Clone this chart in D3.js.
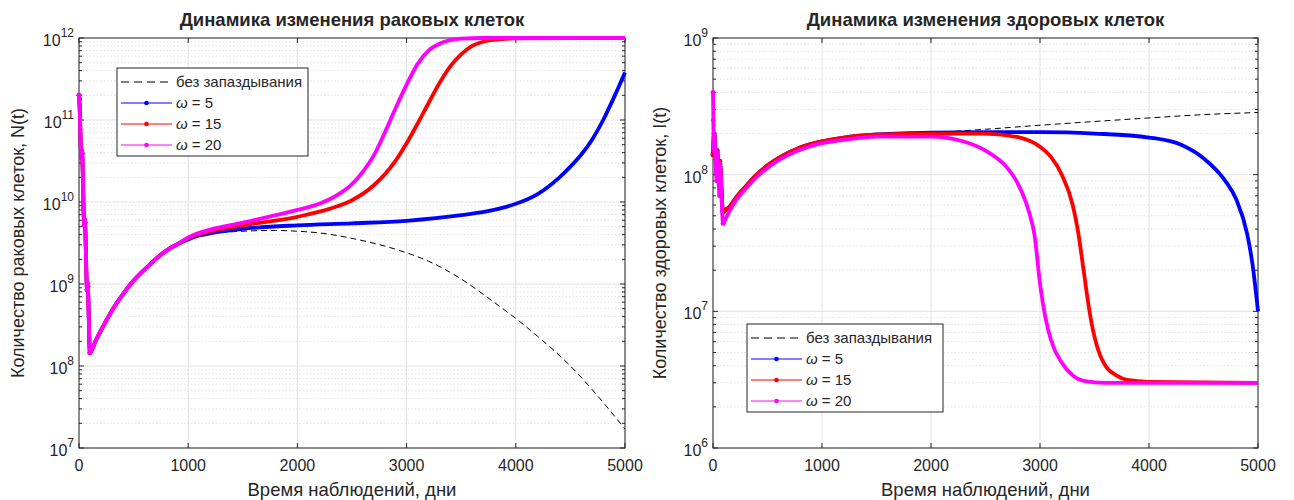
<!DOCTYPE html>
<meta charset="utf-8">
<style>
body { margin: 0; background: #fff; }
text { font-family: "Liberation Sans", Arial, sans-serif; fill: #262626; }
.gmaj line { stroke: #e2e2e2; stroke-width: 1; }
.gmin line { stroke: #e2e2e2; stroke-width: 1; stroke-dasharray: 1.5,2; }
.frame { fill: none; stroke: #262626; stroke-width: 1; }
</style>
<svg width="1294" height="500"></svg>
<script src="https://d3js.org/d3.v7.min.js"></script>
<script>

var xTicks = [0, 1000, 2000, 3000, 4000, 5000];
var omegas = [5, 15, 20];
var colors = ["#0000ff", "#ff0000", "#ff00ff"];
var noDelayLabel = "без запаздывания";

// раковые клетки N(t): общий начальный участок (курсы лечения до ~100 дней и рост)
var tumorStart = [[0, 2.0e11], [3, 1.8e11], [22, 3.5e10], [25, 4.2e10], [29, 3.9e10], [48, 5.2e9],
  [51, 6.0e9], [55, 5.6e9], [74, 8.5e8], [77, 1.0e9], [81, 9.4e8], [100, 1.45e8], [150, 2.0e8],
  [200, 2.7e8], [300, 4.7e8], [400, 7.4e8], [500, 1.1e9], [600, 1.5e9], [700, 2.0e9], [800, 2.55e9],
  [900, 3.05e9]];
var tumorNoDelay = [[1000, 3.5e9], [1100, 3.85e9], [1200, 4.1e9], [1500, 4.4e9], [1800, 4.5e9], [2000, 4.4e9],
  [2200, 4.2e9], [2500, 3.6e9], [2800, 2.9e9], [3000, 2.4e9], [3200, 1.9e9], [3500, 1.15e9], [3800, 6.0e8],
  [4000, 3.8e8], [4200, 2.3e8], [4500, 1.0e8], [4800, 3.6e7], [5000, 1.7e7]];
var tumorW5 = [[1000, 3.5e9], [1100, 3.9e9], [1200, 4.15e9], [1500, 4.7e9], [2000, 5.2e9], [2500, 5.5e9],
  [3000, 5.9e9], [3500, 6.9e9], [3800, 8.0e9], [4000, 9.5e9], [4200, 1.25e10], [4400, 2.0e10], [4500, 2.7e10],
  [4600, 3.8e10], [4700, 5.8e10], [4800, 1.0e11], [4900, 1.9e11], [5000, 3.8e11]];
var tumorW15 = [[1000, 3.6e9], [1100, 4.05e9], [1200, 4.4e9], [1500, 5.2e9], [2000, 6.6e9], [2300, 8.3e9],
  [2500, 1.05e10], [2700, 1.6e10], [2900, 3.2e10], [3000, 5.2e10], [3100, 9.0e10], [3200, 1.6e11],
  [3300, 2.8e11], [3400, 4.5e11], [3500, 6.3e11], [3600, 8.0e11], [3700, 9.0e11], [3800, 9.5e11],
  [4000, 9.9e11], [4500, 1.0e12], [5000, 1.0e12]];
var tumorW20 = [[1000, 3.7e9], [1100, 4.2e9], [1200, 4.6e9], [1500, 5.6e9], [2000, 8.0e9], [2200, 9.5e9],
  [2400, 1.3e10], [2500, 1.65e10], [2600, 2.35e10], [2700, 3.7e10], [2800, 7.0e10], [2900, 1.4e11],
  [3000, 2.7e11], [3100, 4.8e11], [3200, 7.0e11], [3300, 8.5e11], [3400, 9.4e11], [3500, 9.8e11],
  [3700, 1.0e12], [5000, 1.0e12]];

// здоровые клетки I(t)
var healthyStart = [[0, 1.4e8], [10, 2.0e8], [14, 1.9e8], [35, 1.0e8], [38, 1.5e8], [60, 8.0e7],
  [63, 1.25e8], [92, 5.3e7], [100, 5.4e7], [150, 5.8e7], [200, 6.6e7], [250, 7.4e7], [300, 8.2e7],
  [400, 1.0e8], [500, 1.17e8], [600, 1.32e8], [800, 1.58e8], [1000, 1.75e8], [1200, 1.87e8]];
var healthyStartW20 = [[0, 4.0e8], [3, 2.5e8], [8, 1.5e8], [12, 1.9e8], [35, 9.0e7], [38, 1.45e8],
  [60, 7.0e7], [63, 1.2e8], [92, 4.4e7], [100, 4.5e7], [150, 5.4e7], [200, 6.3e7], [250, 7.1e7],
  [300, 7.9e7], [400, 9.6e7], [500, 1.12e8], [600, 1.27e8], [800, 1.52e8], [1000, 1.7e8], [1200, 1.8e8]];
var healthyNoDelay = [[1500, 1.97e8], [2000, 2.03e8], [2500, 2.15e8], [3000, 2.3e8], [3500, 2.45e8],
  [4000, 2.6e8], [4500, 2.75e8], [5000, 2.85e8]];
var healthyW5 = [[1500, 1.97e8], [2000, 2.03e8], [2500, 2.05e8], [3000, 2.05e8], [3500, 2.0e8],
  [4000, 1.87e8], [4300, 1.65e8], [4500, 1.32e8], [4700, 9.0e7], [4800, 6.6e7], [4900, 3.7e7],
  [4950, 2.2e7], [5000, 1.0e7]];
var healthyW15 = [[1500, 1.96e8], [2000, 2.0e8], [2500, 2.0e8], [2800, 1.88e8], [3000, 1.6e8], [3100, 1.35e8],
  [3200, 1.0e8], [3300, 6.0e7], [3350, 3.8e7], [3400, 2.0e7], [3450, 1.05e7], [3500, 6.5e6], [3550, 4.8e6],
  [3600, 4.0e6], [3700, 3.4e6], [3800, 3.15e6], [4000, 3.05e6], [5000, 3.0e6]];
var healthyW20 = [[1500, 1.9e8], [2000, 1.9e8], [2300, 1.75e8], [2500, 1.5e8], [2700, 1.12e8], [2800, 8.5e7],
  [2900, 5.3e7], [2950, 3.6e7], [3000, 1.6e7], [3050, 9.0e6], [3100, 6.2e6], [3200, 4.2e6], [3300, 3.4e6],
  [3400, 3.1e6], [3600, 3.0e6], [5000, 3.0e6]];

var svg = d3.select("svg");
var top0 = 38, bottom0 = 448;

function panel(o) {
  var g = svg.append("g");
  var x = d3.scaleLinear().domain([0, 5000]).range([o.x0, o.x1]);
  var y = d3.scaleLog().domain(o.yDomain).range([bottom0, top0]);
  var lo = Math.log10(o.yDomain[0]), hi = Math.log10(o.yDomain[1]);
  var majors = d3.range(lo, hi + 1).map(function(e) { return Math.pow(10, e); });
  var minors = [];
  d3.range(lo, hi).forEach(function(e) {
    for (var k = 2; k <= 9; k++) minors.push(k * Math.pow(10, e));
  });

  // сетка
  g.append("g").attr("class", "gmin").selectAll("line").data(minors).enter().append("line")
    .attr("x1", o.x0).attr("x2", o.x1).attr("y1", y).attr("y2", y);
  var gm = g.append("g").attr("class", "gmaj");
  gm.selectAll("line.h").data(majors).enter().append("line")
    .attr("x1", o.x0).attr("x2", o.x1).attr("y1", y).attr("y2", y);
  gm.selectAll("line.v").data(xTicks).enter().append("line")
    .attr("x1", x).attr("x2", x).attr("y1", top0).attr("y2", bottom0);

  // рамка и засечки внутрь
  g.append("rect").attr("class", "frame")
    .attr("x", o.x0).attr("y", top0).attr("width", o.x1 - o.x0).attr("height", bottom0 - top0);
  var tk = g.append("g").attr("stroke", "#262626").attr("stroke-width", 1);
  xTicks.forEach(function(t) {
    tk.append("line").attr("x1", x(t)).attr("x2", x(t)).attr("y1", bottom0).attr("y2", bottom0 - 5);
    tk.append("line").attr("x1", x(t)).attr("x2", x(t)).attr("y1", top0).attr("y2", top0 + 5);
  });
  majors.forEach(function(v) {
    tk.append("line").attr("x1", o.x0).attr("x2", o.x0 + 5).attr("y1", y(v)).attr("y2", y(v));
    tk.append("line").attr("x1", o.x1).attr("x2", o.x1 - 5).attr("y1", y(v)).attr("y2", y(v));
  });
  minors.forEach(function(v) {
    tk.append("line").attr("x1", o.x0).attr("x2", o.x0 + 3).attr("y1", y(v)).attr("y2", y(v));
    tk.append("line").attr("x1", o.x1).attr("x2", o.x1 - 3).attr("y1", y(v)).attr("y2", y(v));
  });

  // подписи делений
  g.selectAll("text.xt").data(xTicks).enter().append("text")
    .attr("x", x).attr("y", bottom0 + 23).attr("text-anchor", "middle")
    .attr("font-size", 16).text(function(d) { return d; });
  majors.forEach(function(v) {
    var t = g.append("text").attr("x", o.x0 - 5).attr("y", y(v) + 8)
      .attr("text-anchor", "end").attr("font-size", 16);
    t.append("tspan").text("10");
    t.append("tspan").attr("dy", -9).attr("font-size", 12).text(Math.round(Math.log10(v)));
  });

  // заголовок и оси
  g.append("text").attr("x", (o.x0 + o.x1) / 2).attr("y", 26).attr("text-anchor", "middle")
    .attr("font-size", 18.5).attr("font-weight", "bold").text(o.title);
  g.append("text").attr("x", (o.x0 + o.x1) / 2).attr("y", 496).attr("text-anchor", "middle")
    .attr("font-size", 18.5).text("Время наблюдений, дни");
  g.append("text").attr("transform", "translate(" + o.ylabX + "," + (top0 + bottom0) / 2 + ") rotate(-90)")
    .attr("text-anchor", "middle").attr("font-size", 18).text(o.ylabel);

  // линии
  var line = d3.line().x(function(d) { return x(d[0]); }).y(function(d) { return y(d[1]); })
    .curve(d3.curveMonotoneX);
  g.append("path").datum(o.noDelay).attr("d", line).attr("fill", "none")
    .attr("stroke", "#000").attr("stroke-width", 1).attr("stroke-dasharray", "6,4");
  o.series.forEach(function(s, i) {
    g.append("path").datum(s).attr("d", line).attr("fill", "none")
      .attr("stroke", colors[i]).attr("stroke-width", 3.8).attr("stroke-linejoin", "round");
    g.append("g").selectAll("circle").data(s.filter(function(d) { return d[0] <= 100; }))
      .enter().append("circle").attr("cx", function(d) { return x(d[0]); })
      .attr("cy", function(d) { return y(d[1]); }).attr("r", 2.4).attr("fill", colors[i]);
  });

  // легенда
  var L = o.legend;
  var lg = g.append("g").attr("transform", "translate(" + L.x + "," + L.y + ")");
  lg.append("rect").attr("width", L.w).attr("height", 88).attr("fill", "#fff")
    .attr("stroke", "#262626").attr("stroke-width", 1);
  var rows = [14, 35, 56, 77];
  lg.append("line").attr("x1", 4).attr("x2", 55).attr("y1", rows[0]).attr("y2", rows[0])
    .attr("stroke", "#000").attr("stroke-dasharray", "8,5");
  lg.append("text").attr("x", 59).attr("y", rows[0] + 5).attr("font-size", 15).text(noDelayLabel);
  omegas.forEach(function(w, i) {
    lg.append("line").attr("x1", 4).attr("x2", 55).attr("y1", rows[i + 1]).attr("y2", rows[i + 1])
      .attr("stroke", colors[i]).attr("stroke-width", 1.2);
    lg.append("circle").attr("cx", 29.5).attr("cy", rows[i + 1]).attr("r", 2.3).attr("fill", colors[i]);
    var t = lg.append("text").attr("x", 59).attr("y", rows[i + 1] + 5).attr("font-size", 15);
    t.append("tspan").attr("font-style", "italic").text("ω");
    t.append("tspan").text(" = " + w);
  });
}

panel({
  x0: 79, x1: 625, yDomain: [1e7, 1e12], ylabX: 24,
  title: "Динамика изменения раковых клеток",
  ylabel: "Количество раковых клеток, N(t)",
  noDelay: tumorStart.concat(tumorNoDelay),
  series: [tumorStart.concat(tumorW5), tumorStart.concat(tumorW15), tumorStart.concat(tumorW20)],
  legend: {x: 117, y: 68, w: 191}
});

panel({
  x0: 713, x1: 1258, yDomain: [1e6, 1e9], ylabX: 666,
  title: "Динамика изменения здоровых клеток",
  ylabel: "Количество здоровых клеток, I(t)",
  noDelay: healthyStart.concat(healthyNoDelay),
  series: [healthyStart.concat(healthyW5), healthyStart.concat(healthyW15), healthyStartW20.concat(healthyW20)],
  legend: {x: 747, y: 324, w: 196}
});

</script>
